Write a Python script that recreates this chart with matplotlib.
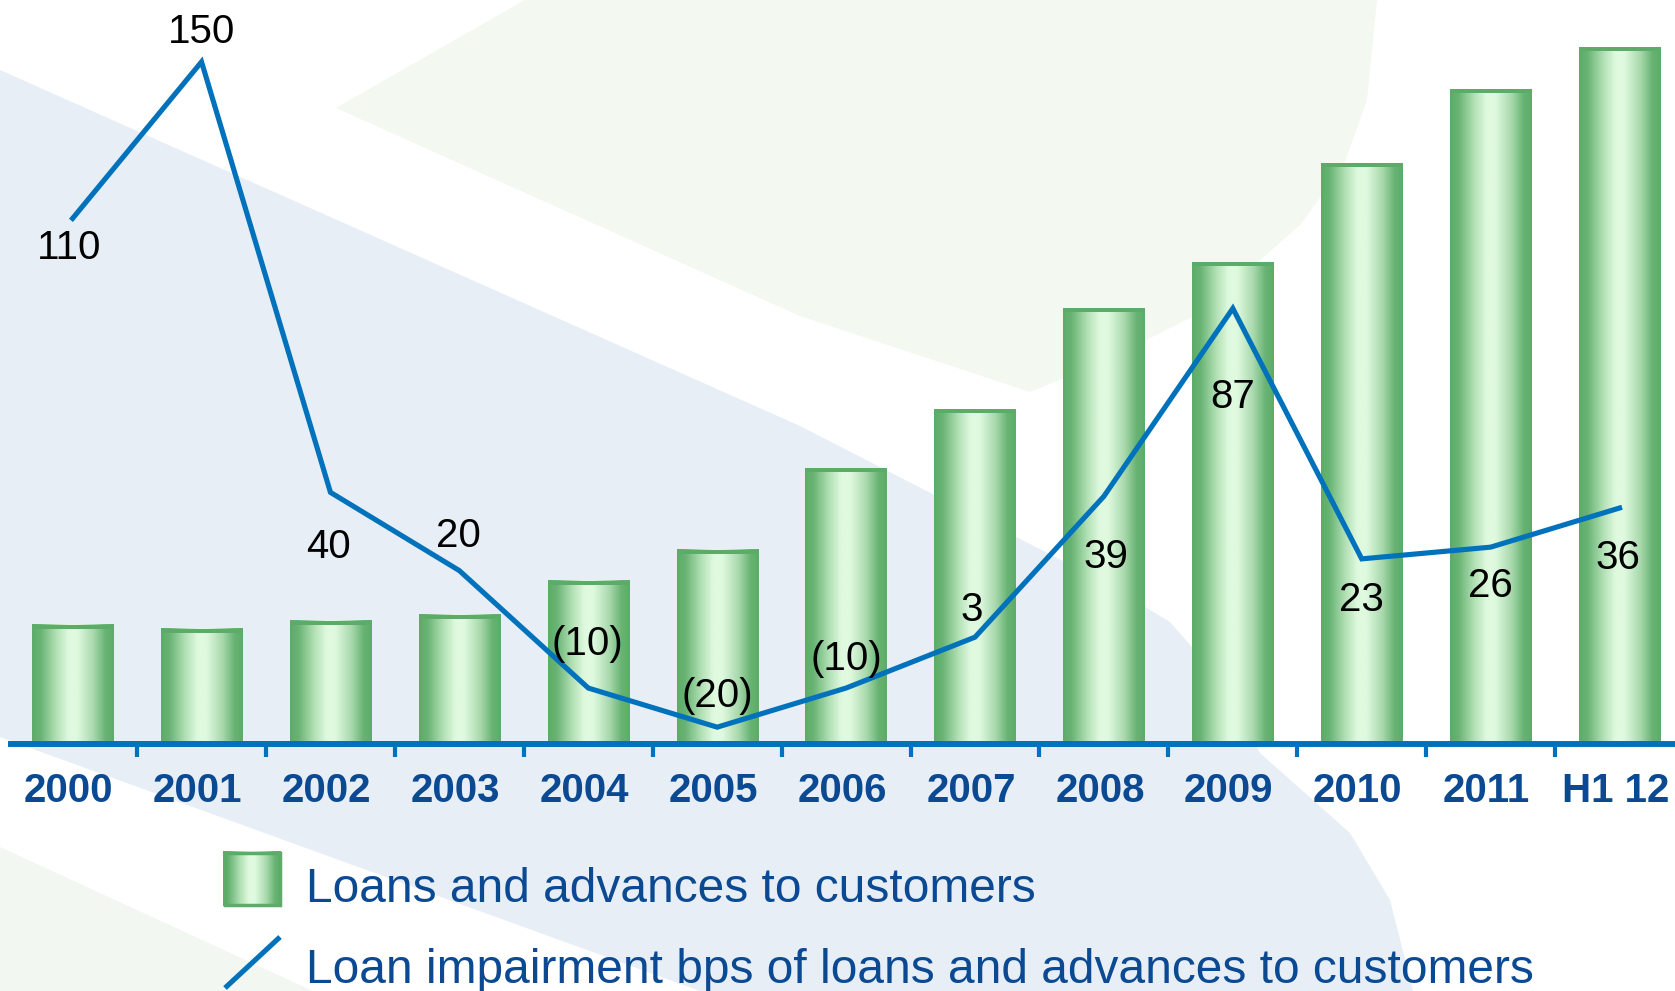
import numpy as np
import matplotlib
matplotlib.use("Agg")
import matplotlib.pyplot as plt
from matplotlib.colors import LinearSegmentedColormap
from matplotlib.patches import Polygon, Rectangle
from matplotlib.lines import Line2D
from matplotlib.transforms import ScaledTranslation

plt.rcParams['font.family'] = ['Liberation Sans', 'DejaVu Sans']

# data
periods = ['2000', '2001', '2002', '2003', '2004', '2005', '2006',
           '2007', '2008', '2009', '2010', '2011', 'H1 12']
loans = [119, 115, 123, 129, 163, 194, 276, 335, 436, 482, 581, 655, 697]
impairment_bps = [110, 150, 40, 20, -10, -20, -10, 3, 39, 87, 23, 26, 36]

# label offsets in pixels (dx, dy of the digit centre from the point)
label_offsets = [(-3, -26), (0, 33), (-2, -51), (-1, 38), (-1, 48), (0, 35), (0, 33),
                 (-3, 31), (2, -57), (0, -85), (0, -38), (0, -35), (-2, -46)]

line_col = '#0072bc'
text_blue = '#0b4a92'
bar_dark = '#5dab69'
bar_cmap = LinearSegmentedColormap.from_list('bar', [
    (0.0, '#5dab69'), (0.1, '#67b373'), (0.3, '#b3e1b6'), (0.45, '#e0fae0'),
    (0.55, '#e0fae0'), (0.75, '#a9d9ad'), (0.9, '#67b373'), (1.0, '#5dab69')])
grad = np.linspace(0, 1, 256).reshape(1, -1)

W, H = 1675, 991
fig = plt.figure(figsize=(W / 100, H / 100), dpi=100)

# background shapes, pixel coordinates
bg = fig.add_axes([0, 0, 1, 1], zorder=-1)
blue_area = [(0, 70), (800, 426), (1100, 580), (1170, 622), (1225, 685), (1260, 753),
             (1350, 833), (1390, 900), (1413, 991), (700, 991), (0, 737)]
green_area = [(336, 108), (525, 0), (1377, 0), (1367, 100), (1343, 167), (1300, 225),
              (1200, 313), (1100, 363), (1030, 392), (800, 316)]
corner_area = [(0, 847), (0, 991), (313, 991)]
bg.add_patch(Polygon(blue_area, closed=True, fc='#e7eef6', ec='none'))
bg.add_patch(Polygon(green_area, closed=True, fc='#f3f8f1', ec='none'))
bg.add_patch(Polygon(corner_area, closed=True, fc='#f3f7f1', ec='none'))

# legend
bg.imshow(grad, cmap=bar_cmap, extent=[223, 281, 906, 851], aspect='auto', zorder=2)
bg.add_patch(Rectangle((224.5, 852.5), 55, 52, fill=False, ec=bar_dark, lw=2.5, zorder=3))
bg.add_line(Line2D([225, 280], [988, 937], color=line_col, lw=3.7, solid_capstyle='butt'))
bg.text(306, 902, 'Loans and advances to customers', fontsize=34.5, color=text_blue, va='baseline')
bg.text(306, 983, 'Loan impairment bps of loans and advances to customers', fontsize=34.5,
        color=text_blue, va='baseline')
bg.set_xlim(0, W)
bg.set_ylim(H, 0)
bg.axis('off')

# bars
ax = fig.add_axes([11 / W, 1 - 744 / H, 1 - 11 / W, 744 / H])
ax.patch.set_alpha(0)
x = np.arange(len(periods))
bars = ax.bar(x, loans, width=0.63, color='none', zorder=1)
for b in bars:
    x0, w, h = b.get_x(), b.get_width(), b.get_height()
    ax.imshow(grad, cmap=bar_cmap, extent=[x0, x0 + w, 0, h], aspect='auto',
              interpolation='bicubic', zorder=1)
    ax.add_patch(Rectangle((x0, h - 4), w, 4, fc=bar_dark, ec='none', zorder=1.1))

ax.set_xlim(-0.478, 12.43)
ax.set_ylim(0, 744)
for s in ['top', 'left', 'right']:
    ax.spines[s].set_visible(False)
ax.spines['bottom'].set_color(line_col)
ax.spines['bottom'].set_linewidth(4.3)
ax.spines['bottom'].set_zorder(3)
ax.set_yticks([])
ax.set_xticks(x, periods)
ax.set_xticks(x[:-1] + 0.5, minor=True)
ax.tick_params(axis='x', which='major', length=0, pad=20, labelsize=29, labelcolor=text_blue)
ax.tick_params(axis='x', which='minor', length=9, width=3, color=line_col, direction='out')
shift = ScaledTranslation(-0.04, 0, fig.dpi_scale_trans)
for lab in ax.get_xticklabels():
    lab.set_fontweight('bold')
    lab.set_transform(lab.get_transform() + shift)

# impairment line
ax2 = ax.twinx()
ax2.plot(x, impairment_bps, color=line_col, lw=3.7, solid_joinstyle='miter')
ax2.set_ylim(-24.3, 165.8)
ax2.axis('off')
for xi, v, (dx, dy) in zip(x, impairment_bps, label_offsets):
    txt = f'({abs(v)})' if v < 0 else f'{v}'
    ax2.annotate(txt, (xi, v), xytext=(dx, dy - 14.5), textcoords='offset pixels',
                 ha='center', va='baseline', fontsize=29, color='black')

fig.savefig('out.png', dpi=100)
